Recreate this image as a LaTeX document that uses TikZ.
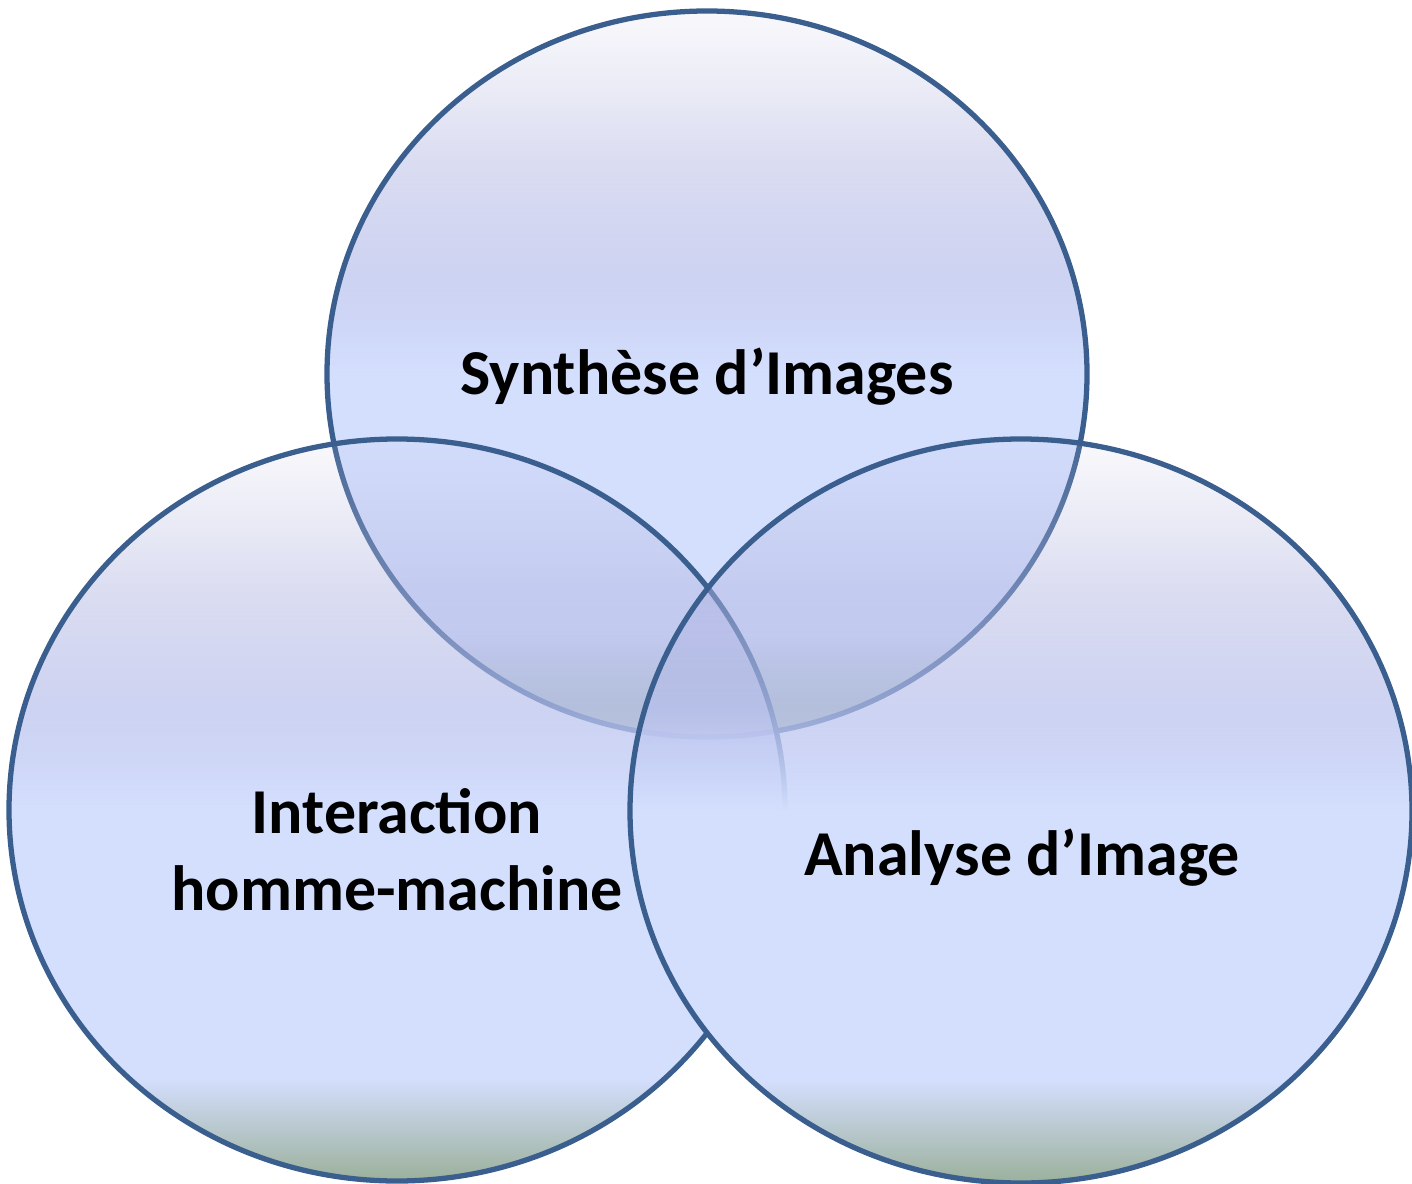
\documentclass[tikz,border=0pt]{standalone}
\usepackage{fontspec}
\setmainfont{Carlito}
\usetikzlibrary{fadings}
\definecolor{vtop}{HTML}{C0C0E0}
\definecolor{vlav}{HTML}{B0B4E0}
\definecolor{vmid}{HTML}{B8C0EC}
\definecolor{vblue}{HTML}{D4DFFE}
\definecolor{vgreen}{HTML}{9BB09B}
\definecolor{vline}{HTML}{3A5F8F}
\pgfdeclareverticalshading{venn}{100bp}{color(0bp)=(vgreen); color(25bp)=(vgreen);
  color(32bp)=(vblue); color(50bp)=(vblue); color(57bp)=(vmid); color(65bp)=(vlav);
  color(75bp)=(vtop); color(100bp)=(vtop)}
\pgfdeclareverticalshading{vennalpha}{100bp}{color(0bp)=(pgftransparent!0); color(50bp)=(pgftransparent!0);
  color(57bp)=(pgftransparent!30); color(65bp)=(pgftransparent!55); color(75bp)=(pgftransparent!90);
  color(100bp)=(pgftransparent!90)}
\pgfdeclarefading{vennfade}{\pgfuseshading{vennalpha}}
\tikzset{
  disc/.style={shading=venn, path fading=vennfade},
  rim/.style={draw=vline, line width=1.5pt},
  lbl/.style={font=\bfseries\fontsize{18.2}{22}\selectfont, align=center}
}

\begin{document}
\begin{tikzpicture}
\useasboundingbox (0,0) rectangle (14.12,-11.84);
% top, left, right
\foreach \cx/\cy/\rx/\ry in {7.07/-3.74/3.80/3.63, 3.97/-8.10/3.88/3.71, 10.21/-8.11/3.91/3.72}
{
    \path[disc] (\cx,\cy) ellipse ({\rx} and {\ry});
    \draw[rim] (\cx,\cy) ellipse ({\rx} and {\ry});
}
\node[lbl] (synth) at (7.07,-3.77) {Synthèse d’Images};
\node[lbl] (ihm) at (3.97,-8.50) {Interaction\\homme-machine};
\node[lbl] (analyse) at (10.22,-8.58) {Analyse d’Image};
\end{tikzpicture}
\end{document}
